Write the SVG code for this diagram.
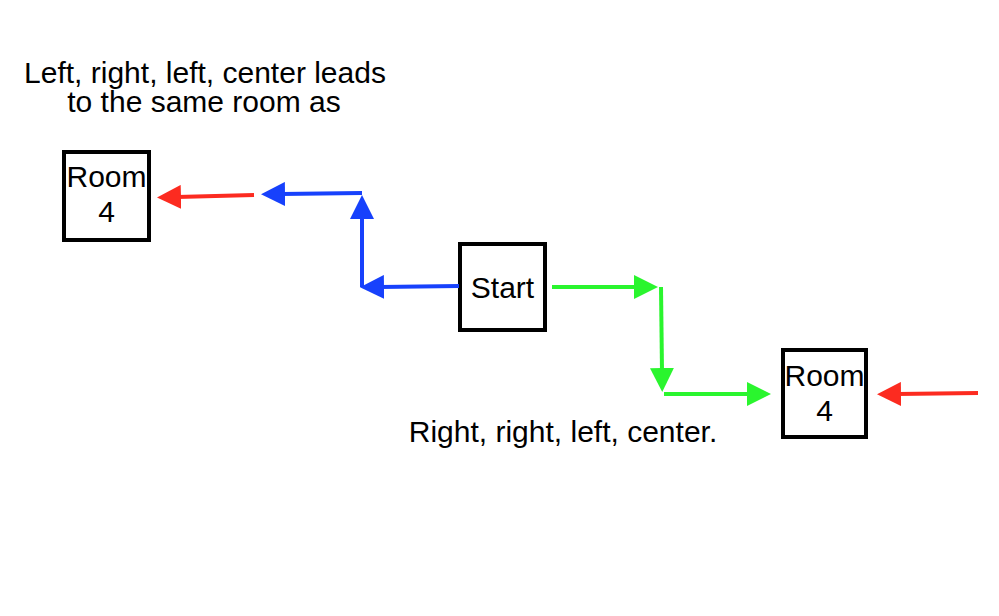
<svg xmlns="http://www.w3.org/2000/svg" width="999" height="616" viewBox="0 0 999 616">
  <style>
    .box { fill: #ffffff; stroke: #000000; stroke-width: 4; }
    .lbl { font-family: "Liberation Sans", Arial, Helvetica, sans-serif; font-size: 30px; fill: #000000; text-anchor: middle; }
    .red { stroke: #fc2b20; stroke-width: 4; fill: none; }
    .blue { stroke: #1741fc; stroke-width: 4; fill: none; }
    .green { stroke: #2af52e; stroke-width: 4; fill: none; }
  </style>
  <defs>
    <marker id="ah-red" markerUnits="userSpaceOnUse" markerWidth="24" markerHeight="24" refX="4" refY="12" orient="auto">
      <path d="M0,0 L24,12 L0,24 z" fill="#fc2b20"/>
    </marker>
    <marker id="ah-blue" markerUnits="userSpaceOnUse" markerWidth="24" markerHeight="24" refX="4" refY="12" orient="auto">
      <path d="M0,0 L24,12 L0,24 z" fill="#1741fc"/>
    </marker>
    <marker id="ah-green" markerUnits="userSpaceOnUse" markerWidth="24" markerHeight="24" refX="4" refY="12" orient="auto">
      <path d="M0,0 L24,12 L0,24 z" fill="#2af52e"/>
    </marker>
  </defs>
  <rect width="999" height="616" fill="#ffffff"/>

  <g id="note-top">
    <text class="lbl" x="205" y="83">Left, right, left, center leads</text>
    <text class="lbl" x="204" y="112">to the same room as</text>
  </g>
  <g id="note-bottom">
    <text class="lbl" x="563" y="442">Right, right, left, center.</text>
  </g>

  <g id="room4-left">
    <rect class="box" x="64" y="152" width="85" height="88"/>
    <text class="lbl" x="106.5" y="187">Room</text>
    <text class="lbl" x="106.5" y="222">4</text>
  </g>
  <g id="start">
    <rect class="box" x="460" y="244" width="85" height="86"/>
    <text class="lbl" x="502.5" y="298">Start</text>
  </g>
  <g id="room4-right">
    <rect class="box" x="783" y="350" width="83" height="87"/>
    <text class="lbl" x="824.5" y="386">Room</text>
    <text class="lbl" x="824.5" y="421">4</text>
  </g>

  <g id="connectors">
    <line class="red" x1="254" y1="195" x2="177" y2="197" marker-end="url(#ah-red)"/>
    <line class="blue" x1="362" y1="193" x2="281" y2="194" marker-end="url(#ah-blue)"/>
    <line class="blue" x1="362" y1="287" x2="362" y2="215" marker-end="url(#ah-blue)"/>
    <line class="blue" x1="459" y1="286" x2="380" y2="287" marker-end="url(#ah-blue)"/>
    <line class="green" x1="552" y1="287" x2="638" y2="287" marker-end="url(#ah-green)"/>
    <line class="green" x1="661" y1="287" x2="662" y2="372" marker-end="url(#ah-green)"/>
    <line class="green" x1="664" y1="394" x2="751" y2="394" marker-end="url(#ah-green)"/>
    <line class="red" x1="978" y1="393" x2="897" y2="394" marker-end="url(#ah-red)"/>
  </g>
</svg>
